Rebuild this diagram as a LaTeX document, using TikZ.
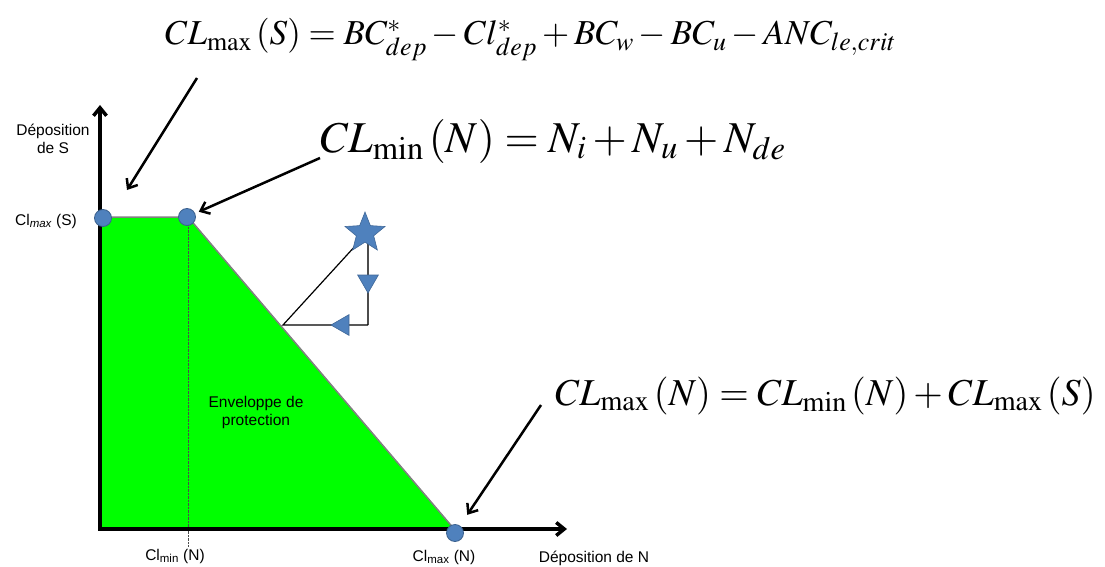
\documentclass[tikz,border=0pt]{standalone}
\usepackage{mathptmx}
\usepackage{fontspec}
\setsansfont{Liberation Sans}
\usetikzlibrary{arrows.meta,shapes.geometric}
\definecolor{dotblue}{HTML}{4F81BD}
\definecolor{envgreen}{HTML}{00FF00}

\begin{document}
\begin{tikzpicture}[
    x=1pt, y=-1pt,
    >={Straight Barb[length=8pt,width=13pt]},
    every node/.style={font=\sffamily\fontsize{15.5}{18}\selectfont},
    dot/.style={circle, fill=dotblue, draw=dotblue!75!black, line width=0.8pt, minimum size=17pt, inner sep=0pt},
    marker/.style={fill=dotblue, draw=dotblue!80!black, line width=0.6pt, inner sep=0pt},
    formula/.style={font=\fontsize{44}{48}\selectfont, inner sep=0pt, anchor=base west},
    callout/.style={->, line width=2.5pt}
]
    \useasboundingbox (0,0) rectangle (1105,567);

    % envelope de protection
    \fill[envgreen] (100,217) -- (188,217) -- (455,530) -- (100,530) -- cycle;
    \draw[gray, line width=1.5pt] (100,217) -- (188,217) -- (455,530);
    \draw[densely dotted, black!70] (188,217) -- (188,547);
    \node[align=center] (Env) at (256,412) {Enveloppe de\\protection};

    % axes
    \coordinate (Origin) at (100,529);
    \coordinate (YTop) at (100,105);
    \coordinate (XEnd) at (567,529);
    \draw[->, line width=3.5pt] (Origin) -- (YTop);
    \draw[->, line width=3.5pt] ([xshift=-1.75pt]Origin) -- (XEnd);
    \node[align=center] (YLabel) at (53,139) {Déposition\\de S};
    \node[anchor=base] (XLabel) at (594,562) {Déposition de N};

    % charges critiques
    \node[dot] (ClmaxS) at (103,218) {};
    \node[dot] (ClminN) at (187,217) {};
    \node[dot] (ClmaxN) at (455,533) {};
    \node[anchor=base] (LabS) at (46,225) {Cl\textsubscript{\itshape max} (S)};
    \node[anchor=base] (LabMin) at (175,560) {Cl\textsubscript{min} (N)};
    \node[anchor=base] (LabMax) at (444,561) {Cl\textsubscript{max} (N)};

    % deposition actuelle
    \coordinate (StarC) at (365,233);
    \coordinate (Corner) at (368,325);
    \coordinate (Foot) at (283,325);
    \draw[gray!60!black, line width=1.2pt] (368,240) -- (Corner);
    \draw[line width=1.2pt] (Corner) -- (Foot) -- (357,244);
    \node[marker, star, star points=5, star point ratio=2.3, minimum size=42pt] (Star) at (StarC) {};
    \node[marker, regular polygon, regular polygon sides=3, shape border rotate=180, minimum size=24pt] (TriDown) at (368,281) {};
    \node[marker, regular polygon, regular polygon sides=3, shape border rotate=90, minimum size=24pt] (TriLeft) at (343,325) {};

    % formules
    \node[formula, font=\fontsize{35}{40}\selectfont] (FmlS) at (165,45)
        {$CL_{\max}\,(S)=BC^{*}_{dep}-Cl^{*}_{dep}+BC_{w}-BC_{u}-ANC_{le,crit}$};
    \node[formula] (FmlMin) at (320,152) {$CL_{\min}\,(N)=N_{i}+N_{u}+N_{de}$};
    \node[formula, font=\fontsize{38}{42}\selectfont] (FmlMax) at (555,405) {$CL_{\max}\,(N)=CL_{\min}\,(N)+CL_{\max}\,(S)$};

    \coordinate (FromS) at (197,78);
    \coordinate (AboveS) at (127,190);
    \coordinate (FromMin) at (320,158);
    \coordinate (FromMax) at (541,405);
    \draw[callout] (FromS) -- (AboveS);
    \draw[callout, shorten >=4pt] (FromMin) -- (ClminN);
    \draw[callout, shorten >=13pt] (FromMax) -- (ClmaxN);
\end{tikzpicture}
\end{document}
